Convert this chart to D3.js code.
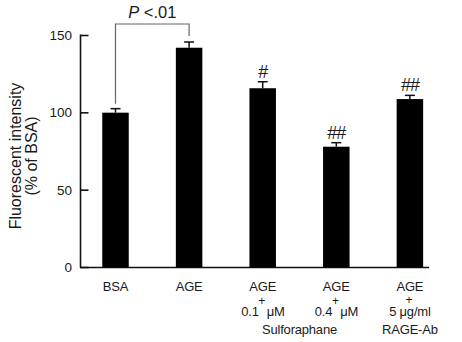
<!DOCTYPE html>
<html><head><meta charset="utf-8">
<script src="https://cdn.jsdelivr.net/npm/d3@7"></script>
<style>
body{margin:0;background:#fff;}
text{font-family:"Liberation Sans",Arial,sans-serif;fill:#1a1a1a;}
</style></head>
<body><svg id="c" width="462" height="342"></svg>
<script>
const categories = ["BSA","AGE","AGE+S0.1","AGE+S0.4","AGE+Ab"];
const values = [100.1, 142.1, 115.9, 78.1, 108.9];
const errors = [2.6, 3.7, 4.2, 2.6, 2.4];
const marks = ["", "", "#", "##", "##"];
const yTicks = [0, 50, 100, 150];
const line1 = ["BSA","AGE","AGE","AGE","AGE"];
const doseLeft = [null, null, "0.1", "0.4", null];
const doseRight = [null, null, "μM", "μM", null];
const doseCenter = [null, null, null, null, "5 μg/ml"];
const groupLabels = [{text:"Sulforaphane", from:2, to:3},{text:"RAGE-Ab", from:4, to:4}];
const pText = ".01";

const svg = d3.select("#c");
const x = d3.scaleBand().domain(categories).range([78.7, 446.7]).paddingInner(0.64).paddingOuter(0.32);
const y = d3.scaleLinear().domain([0,150]).range([267.5, 35.5]);
const cx = d => x(d) + x.bandwidth()/2;

// axes lines
svg.append("line").attr("x1",80.5).attr("x2",80.5).attr("y1",y(0)).attr("y2",y(150)-1).attr("stroke","#111").attr("stroke-width",1.6);
svg.append("line").attr("x1",80).attr("x2",429).attr("y1",y(0)).attr("y2",y(0)).attr("stroke","#111").attr("stroke-width",1.6);
const yt = svg.append("g");
yt.selectAll("line").data(yTicks).join("line").attr("x1",80.5).attr("x2",88.5)
  .attr("y1",d=>y(d)).attr("y2",d=>y(d)).attr("stroke","#111").attr("stroke-width",1.6);
yt.selectAll("text").data(yTicks).join("text").attr("x",72).attr("y",d=>y(d)+4.5)
  .attr("text-anchor","end").attr("font-size",13.5).text(d=>d);

// bars
svg.selectAll("rect.bar").data(categories).join("rect").attr("class","bar")
  .attr("x",d=>x(d)).attr("width",x.bandwidth())
  .attr("y",(d,i)=>y(values[i])).attr("height",(d,i)=>y(0)-y(values[i])).attr("fill","#000");

// error bars
const eb = svg.append("g").attr("stroke","#111").attr("stroke-width",1.5);
categories.forEach((c,i)=>{
  const top = y(values[i]+errors[i]);
  eb.append("line").attr("x1",cx(c)).attr("x2",cx(c)).attr("y1",y(values[i])).attr("y2",top);
  eb.append("line").attr("x1",cx(c)-5).attr("x2",cx(c)+5).attr("y1",top).attr("y2",top);
});

// significance marks
svg.selectAll("text.mark").data(categories).join("text").attr("class","mark")
  .attr("x",d=>cx(d)).attr("y",(d,i)=>y(values[i]+errors[i])-4)
  .attr("text-anchor","middle").attr("font-size",18).attr("letter-spacing","-1").text((d,i)=>marks[i]);

// bracket
const bY = 24;
const b = svg.append("g").attr("fill","none").attr("stroke","#666").attr("stroke-width",1.2);
b.append("path").attr("d",
  `M${cx(categories[0])},${y(values[0]+errors[0])-5}V${bY}H${cx(categories[1])}V${y(values[1]+errors[1])-6}`);
const pt = svg.append("text").attr("x",(cx(categories[0])+cx(categories[1]))/2).attr("y",17.5)
  .attr("text-anchor","middle").attr("font-size",16.5);
pt.append("tspan").attr("font-style","italic").text("P");
pt.append("tspan").text(" <" + pText);

// x labels
const xl = svg.append("g").attr("font-size",13).attr("letter-spacing","-0.2");
categories.forEach((c,i)=>{
  const m = cx(c);
  xl.append("text").attr("x",m).attr("y",291).attr("text-anchor","middle").text(line1[i]);
  if (i>=2) xl.append("text").attr("x",m-1).attr("y",i===4?303.5:305).attr("text-anchor","middle").attr("font-size",12).text("+");
  if (doseLeft[i]) {
    xl.append("text").attr("x",m-4).attr("y",315.5).attr("text-anchor","end").text(doseLeft[i]);
    xl.append("text").attr("x",m+4).attr("y",315.5).attr("text-anchor","start").text(doseRight[i]);
  }
  if (doseCenter[i]) xl.append("text").attr("x",m).attr("y",316).attr("text-anchor","middle").text(doseCenter[i]);
});
groupLabels.forEach(g=>{
  const m = (cx(categories[g.from])+cx(categories[g.to]))/2;
  xl.append("text").attr("x",m).attr("y",334).attr("text-anchor","middle").text(g.text);
});

// y title
const yl = svg.append("text").attr("transform","translate(21,156) rotate(-90)").attr("text-anchor","middle").attr("font-size",16);
yl.append("tspan").attr("x",0).attr("y",0).text("Fluorescent intensity");
yl.append("tspan").attr("x",0).attr("y",15.5).text("(% of BSA)");
</script></body></html>
